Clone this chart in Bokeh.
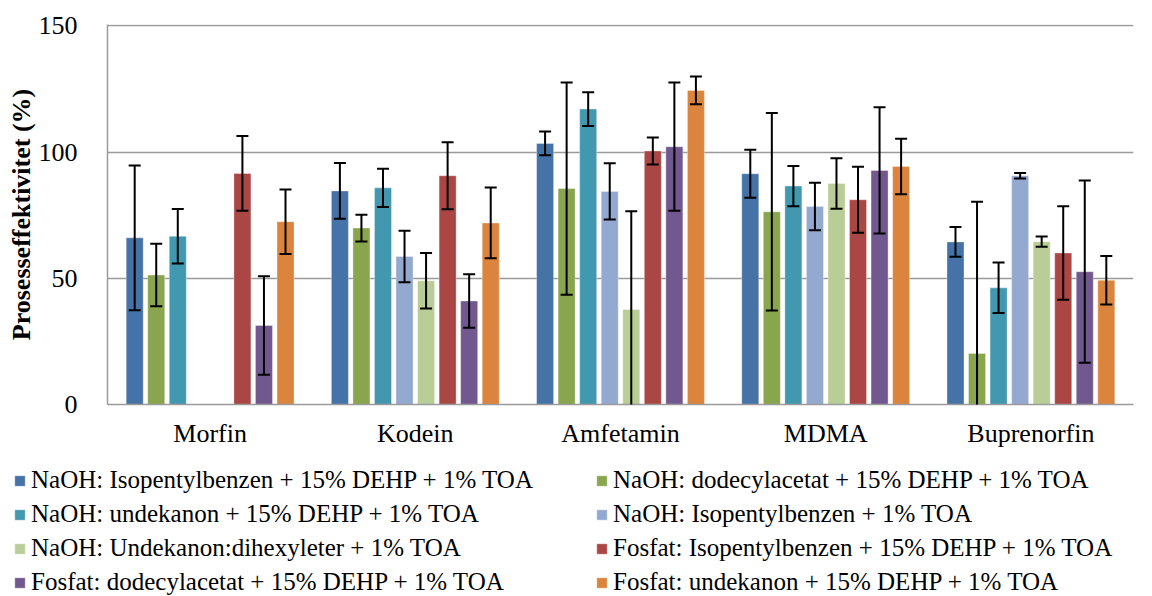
import numpy as np
from bokeh.plotting import figure
from bokeh.layouts import column
from bokeh.models import (ColumnDataSource, FactorRange, Range1d, Whisker, TeeHead,
                          Legend, LegendItem, FixedTicker)
from bokeh.transform import dodge
from bokeh.embed import file_html
from bokeh.resources import INLINE

categories = ["Morfin", "Kodein", "Amfetamin", "MDMA", "Buprenorfin"]
series_names = [
    "NaOH: Isopentylbenzen + 15% DEHP + 1% TOA",
    "NaOH: dodecylacetat + 15% DEHP + 1% TOA",
    "NaOH: undekanon + 15% DEHP + 1% TOA",
    "NaOH: Isopentylbenzen + 1% TOA",
    "NaOH: Undekanon:dihexyleter + 1% TOA",
    "Fosfat: Isopentylbenzen + 15% DEHP + 1% TOA",
    "Fosfat: dodecylacetat + 15% DEHP + 1% TOA",
    "Fosfat: undekanon + 15% DEHP + 1% TOA",
]
colors = ["#4572A7", "#89A54E", "#4198AF", "#93A9CF", "#B9CD96", "#AA4643", "#71588F", "#DB843D"]

nan = float("nan")
naoh_ipb_dehp = [66.0, 84.6, 103.4, 91.4, 64.4]
naoh_ipb_dehp_err = [28.7, 11.0, 4.7, 9.5, 5.9]
naoh_dda_dehp = [51.3, 69.9, 85.5, 76.3, 20.2]
naoh_dda_dehp_err = [12.4, 5.3, 42.0, 39.1, 60.1]
naoh_undek_dehp = [66.6, 85.8, 117.0, 86.5, 46.2]
naoh_undek_dehp_err = [10.8, 7.6, 6.7, 8.0, 10.0]
naoh_ipb = [nan, 58.6, 84.4, 78.4, 90.6]
naoh_ipb_err = [nan, 10.2, 11.1, 9.4, 1.1]
naoh_undek_dhe = [0.0, 49.0, 37.6, 87.5, 64.5]
naoh_undek_dhe_err = [nan, 11.0, 38.9, 10.0, 2.0]
fosfat_ipb_dehp = [91.5, 90.6, 100.4, 81.1, 60.0]
fosfat_ipb_dehp_err = [14.8, 13.3, 5.3, 13.1, 18.5]
fosfat_dda_dehp = [31.3, 41.0, 102.1, 92.7, 52.6]
fosfat_dda_dehp_err = [19.5, 10.6, 25.4, 25.0, 36.1]
fosfat_undek_dehp = [72.4, 71.9, 124.4, 94.3, 49.2]
fosfat_undek_dehp_err = [12.8, 14.0, 5.5, 11.0, 9.6]

values = [naoh_ipb_dehp, naoh_dda_dehp, naoh_undek_dehp, naoh_ipb, naoh_undek_dhe,
          fosfat_ipb_dehp, fosfat_dda_dehp, fosfat_undek_dehp]
errors = [naoh_ipb_dehp_err, naoh_dda_dehp_err, naoh_undek_dehp_err, naoh_ipb_err,
          naoh_undek_dhe_err, fosfat_ipb_dehp_err, fosfat_dda_dehp_err, fosfat_undek_dehp_err]
y_ticks = [0, 50, 100, 150]

FONT = "Liberation Serif"

p = figure(x_range=FactorRange(factors=categories, range_padding=0),
           y_range=Range1d(0, 150.5),
           width=1152, height=460, output_backend="svg", toolbar_location=None,
           min_border_left=107, min_border_right=19, min_border_top=24, min_border_bottom=56)
p.outline_line_color = None
p.background_fill_color = "white"
p.border_fill_color = "white"
p.frame_align = False

step = 0.105
bar_w = 0.083
for i, (name, col, vals, errs) in enumerate(zip(series_names, colors, values, errors)):
    v = np.array(vals, dtype=float)
    e = np.array(errs, dtype=float)
    src = ColumnDataSource(dict(cat=categories, val=v, upper=v + e, lower=v - e))
    off = (i - 3.5) * step
    p.vbar(x=dodge("cat", off, range=p.x_range), top="val", width=bar_w, source=src,
           fill_color=col, line_color="white", line_alpha=0.35, line_width=1)
    w = Whisker(base=dodge("cat", off, range=p.x_range), upper="upper", lower="lower",
                source=src, line_color="black", line_width=2, level="overlay",
                upper_head=TeeHead(size=12, line_width=2, line_color="black"),
                lower_head=TeeHead(size=12, line_width=2, line_color="black"))
    p.add_layout(w)

# axes
p.yaxis.ticker = FixedTicker(ticks=y_ticks)
p.ygrid.ticker = FixedTicker(ticks=y_ticks)
p.xgrid.grid_line_color = None
p.ygrid.grid_line_color = "#9a9a9a"
p.ygrid.grid_line_width = 1.5

for ax in (p.xaxis[0], p.yaxis[0]):
    ax.axis_line_color = "#9a9a9a"
    ax.axis_line_width = 1.5
    ax.major_tick_line_color = None
    ax.minor_tick_line_color = None
    ax.major_label_text_font = FONT
    ax.major_label_text_font_size = "26px"
    ax.major_label_text_color = "black"

p.yaxis.major_label_standoff = 24
p.xaxis.major_label_standoff = 8
p.yaxis.axis_label = "Prosesseffektivitet (%)"
p.yaxis.axis_label_text_font = FONT
p.yaxis.axis_label_text_font_style = "bold"
p.yaxis.axis_label_text_font_size = "26px"
p.yaxis.axis_label_text_color = "black"
p.yaxis.axis_label_standoff = 0

# legend panel (separate figure below the chart, frame spans its full area)
lg = figure(width=1152, height=136, output_backend="svg", toolbar_location=None,
            x_range=Range1d(0, 1), y_range=Range1d(0, 1),
            min_border_left=0, min_border_right=0, min_border_top=0, min_border_bottom=0,
            x_axis_type=None, y_axis_type=None)
lg.frame_align = False
lg.outline_line_color = None
lg.xgrid.visible = False
lg.ygrid.visible = False
lg_renderers = []
for name, col in zip(series_names, colors):
    # legend swatch renderers; their single bar lies outside the visible range
    r = lg.vbar(x=[5.0], top=[5.0], bottom=[4.0], width=0.1, fill_color=col,
                line_color="white", line_alpha=0.35)
    lg_renderers.append(LegendItem(label=name, renderers=[r]))

# Bokeh fills legend columns first; reorder so rows read left-to-right like the original
order = [0, 2, 4, 6, 1, 3, 5, 7]
items = [lg_renderers[k] for k in order]

legend = Legend(items=items, ncols=2, location=(13, 0),
                label_text_font=FONT, label_text_font_size="25px", label_text_color="black",
                glyph_width=13, glyph_height=13, label_height=28, label_standoff=5,
                label_width=558, spacing=6, padding=0, margin=0,
                border_line_color=None, background_fill_alpha=0)
lg.add_layout(legend, "center")

layout = column(p, lg, spacing=0)
open("out.html", "w").write(file_html(layout, INLINE))
